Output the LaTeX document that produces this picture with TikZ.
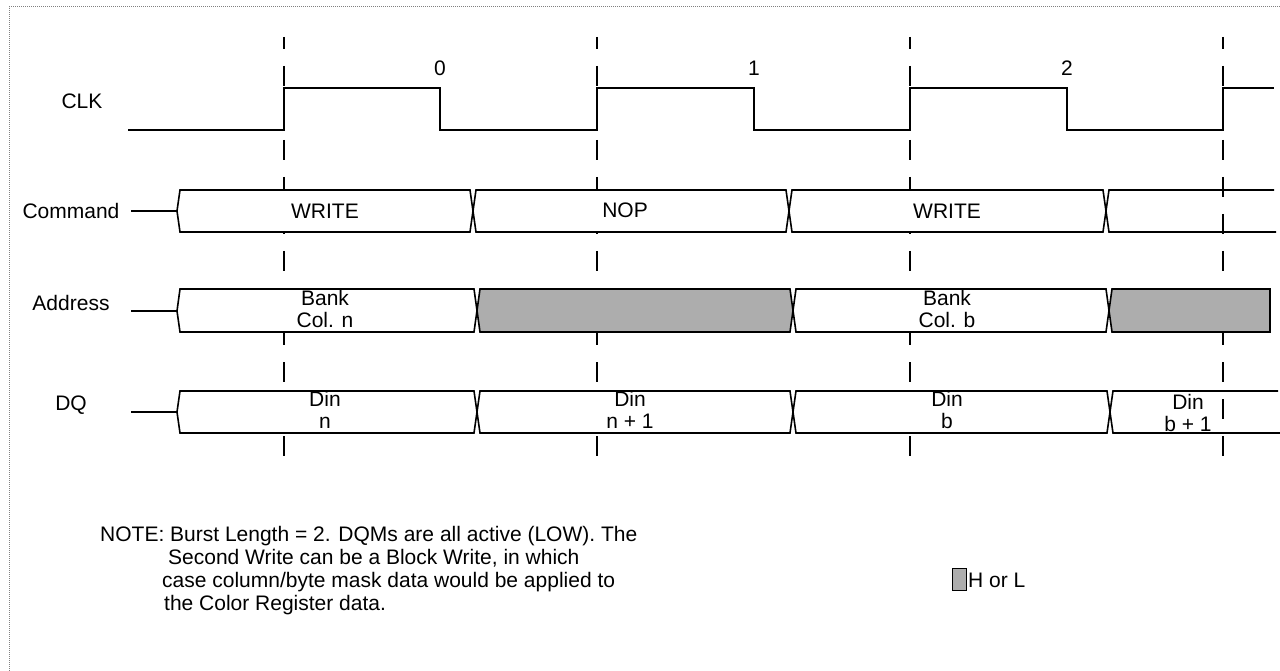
\documentclass[tikz,border=0pt]{standalone}
\usepackage{fontspec}
\setmainfont{Liberation Sans}
\begin{document}
\begin{tikzpicture}[x=1pt,y=-1pt,
  sig/.style={line width=1.6pt, line join=miter},
  bus/.style={line width=1.6pt, fill=white},
  busopen/.style={line width=1.6pt},
  shade/.style={line width=1.6pt, fill=black!32},
  clkline/.style={line width=1.5pt, dash pattern=on 20pt off 17pt, dash phase=8pt},
  lbl/.style={font=\fontsize{21}{22}\selectfont, inner sep=0pt, align=center},
  notetxt/.style={font=\fontsize{21}{22}\selectfont, inner sep=0pt, anchor=base west},
  frame/.style={gray, line width=1pt, dash pattern=on 1pt off 1pt}]
\useasboundingbox (0,0) rectangle (1280,671);
\draw[frame] (1280,7) -- (9,7) -- (9,671);

% clock reference dashed lines
\foreach \x/\n in {284/d0,597/d1,910/d2,1223/d3}{
  \coordinate (\n t) at (\x,37);
  \coordinate (\n b) at (\x,468);
  \draw[clkline] (\n t) -- (\n b);
}

% CLK waveform
\node[lbl] (clk) at (82,101) {CLK};
\coordinate (c0) at (128,130);
\draw[sig] (c0) -- (284,130) -- (284,88) -- (440,88) -- (440,130) -- (597,130) -- (597,88)
  -- (754,88) -- (754,130) -- (910,130) -- (910,88) -- (1067,88) -- (1067,130) -- (1223,130)
  -- (1223,88) -- (1274,88);
\node[lbl] (n0) at (440,68) {0};
\node[lbl] (n1) at (754,68) {1};
\node[lbl] (n2) at (1067,68) {2};

% Command
\node[lbl] (cmd) at (71,211) {Command};
\coordinate (cmdin) at (131,211);
\coordinate (cmdtip) at (177,211);
\draw[sig] (cmdin) -- (cmdtip);
\draw[bus] (cmdtip) -- (180,190) -- (470,190) -- (473,211) -- (470,232) -- (180,232) -- cycle;
\draw[bus] (473,211) -- (476,190) -- (786,190) -- (789,211) -- (786,232) -- (476,232) -- cycle;
\draw[bus] (789,211) -- (792,190) -- (1103,190) -- (1106,211) -- (1103,232) -- (792,232) -- cycle;
\draw[busopen] (1274,190) -- (1109,190) -- (1106,211) -- (1109,232) -- (1276,232);
\node[lbl] (w1) at (325,211) {WRITE};
\node[lbl] (nop) at (625,210) {NOP};
\node[lbl] (w2) at (947,211) {WRITE};

% Address
\node[lbl] (addr) at (71,303) {Address};
\coordinate (adin) at (131,311);
\coordinate (adtip) at (177,311);
\draw[sig] (adin) -- (adtip);
\draw[bus] (adtip) -- (180,289) -- (474,289) -- (477,310.5) -- (474,332) -- (180,332) -- cycle;
\draw[shade] (477,310.5) -- (480,289) -- (790,289) -- (793,310.5) -- (790,332) -- (480,332) -- cycle;
\draw[bus] (793,310.5) -- (796,289) -- (1106,289) -- (1109,310.5) -- (1106,332) -- (796,332) -- cycle;
\draw[shade] (1109,310.5) -- (1112,289) -- (1270,289) -- (1270,332) -- (1112,332) -- cycle;
\node[lbl] (a1) at (325,309) {Bank\\Col. n};
\node[lbl] (a3) at (947,309) {Bank\\Col. b};

% DQ
\node[lbl] (dq) at (71,405) {DQ};
\coordinate (dqin) at (131,412);
\coordinate (dqtip) at (177,412);
\draw[sig] (dqin) -- (dqtip);
\draw[bus] (dqtip) -- (180,391) -- (474,391) -- (477,412) -- (474,433) -- (180,433) -- cycle;
\draw[bus] (477,412) -- (480,391) -- (790,391) -- (793,412) -- (790,433) -- (480,433) -- cycle;
\draw[bus] (793,412) -- (796,391) -- (1107,391) -- (1110,412) -- (1107,433) -- (796,433) -- cycle;
\draw[busopen] (1278,391) -- (1113,391) -- (1110,412) -- (1113,433) -- (1280,433);
\node[lbl] (q1) at (325,410) {Din\\n};
\node[lbl] (q2) at (630,410) {Din\\n + 1};
\node[lbl] (q3) at (947,410) {Din\\b};
\node[lbl] (q4) at (1188,413) {Din\\b + 1};

% note
\node[notetxt] (note1) at (100,541) {NOTE: Burst Length = 2. DQMs are all active (LOW). The};
\node[notetxt] (note2) at (168,564) {Second Write can be a Block Write, in which};
\node[notetxt] (note3) at (162,587) {case column/byte mask data would be applied to};
\node[notetxt] (note4) at (164,610) {the Color Register data.};

% legend
\draw[line width=1pt, fill=black!32] (952,568) rectangle (966,590);
\node[font=\fontsize{21}{22}\selectfont, inner sep=0pt, anchor=west] (hl) at (968,580) {H or L};
\end{tikzpicture}
\end{document}
